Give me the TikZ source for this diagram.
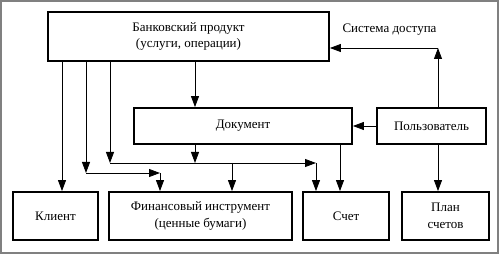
\documentclass[tikz,border=0pt]{standalone}
\usepackage{fontspec}
\setmainfont{Liberation Serif}
\usetikzlibrary{arrows.meta,positioning,calc}

\begin{document}
\begin{tikzpicture}[>={Triangle[length=11pt,width=8pt]}, x=1pt, y=-1pt,
    box/.style={draw, line width=1.8pt, align=center, inner sep=0pt,
      font=\fontsize{13}{16.5}\selectfont},
    link/.style={->, line width=0.8pt}]
  \useasboundingbox (0,0) rectangle (499,254);
  \draw[gray, line width=1.5pt] (1,1) rectangle (498,253);

  % boxes
  \node[box, minimum width=281pt, minimum height=49pt] (bank) at (188.5,36.5)
    {Банковский продукт\\(услуги, операции)};
  \node[box, minimum width=218pt, minimum height=36pt] (doc) at (243,126) {Документ};
  \node[box, minimum width=109pt, minimum height=36pt] (user) at (431.5,126) {Пользователь};
  \node[box, minimum width=85pt, minimum height=48pt] (client) at (55.5,216) {Клиент};
  \node[box, minimum width=183pt, minimum height=48pt] (fin) at (200.5,216)
    {Финансовый инструмент\\(ценные бумаги)};
  \node[box, minimum width=86pt, minimum height=48pt] (schet) at (346,216) {Счет};
  \node[box, minimum width=87pt, minimum height=48pt] (plan) at (445.5,216) {План\\счетов};
  \node[font=\fontsize{13}{14}\selectfont] (access) at (389.5,30) {Система доступа};

  % corners
  \coordinate (xK) at (62,0);
  \coordinate (jB) at (86,173);
  \coordinate (jC) at (160,173);
  \coordinate (jA) at (110,163);
  \coordinate (jE) at (195,163);
  \coordinate (jF) at (232,163);
  \coordinate (jD) at (316,163);
  \coordinate (xS) at (340,0);
  \coordinate (acc) at (438,48);

  % connectors
  \draw[link] (bank.south -| xK) -- (client.north -| xK);
  \draw[link] (bank.south -| jB) -- (jB);
  \draw[link] (jB) -- (jC);
  \draw[link] (jC) -- (fin.north -| jC);
  \draw[link] (bank.south -| jA) -- (jA);
  \draw[link] (jA) -- (jD);
  \draw[link] (jD) -- (schet.north -| jD);
  \draw[link] (jF) -- (fin.north -| jF);
  \draw[link] (bank.south -| jE) -- (doc.north -| jE);
  \draw[link] (doc.south -| jE) -- (jE);
  \draw[link] (doc.south -| xS) -- (schet.north -| xS);
  \draw[link] (user.west) -- (doc.east);
  \draw[link] (user.north -| acc) -- (acc);
  \draw[link] (acc) -- (bank.east |- acc);
  \draw[link] (user.south -| acc) -- (plan.north -| acc);
\end{tikzpicture}
\end{document}
